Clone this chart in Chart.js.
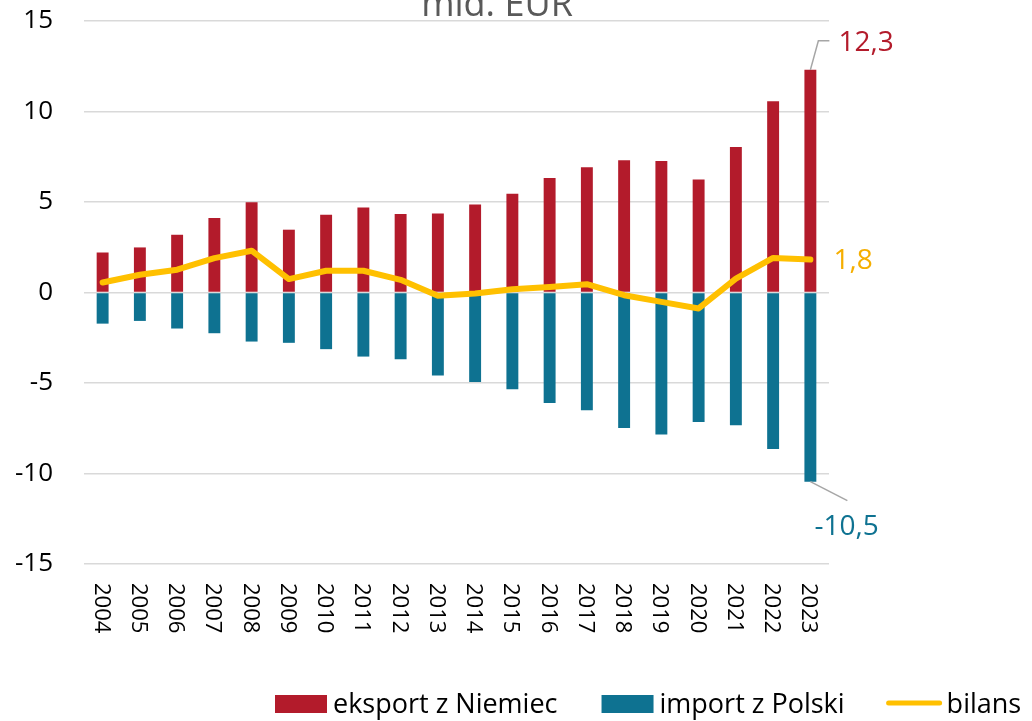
<!DOCTYPE html>
<html>
<head>
<meta charset="utf-8">
<script src="https://cdn.jsdelivr.net/npm/chart.js@4"></script>
<style>
  html, body { margin: 0; padding: 0; background: #fff; }
  canvas { display: block; }
</style>
</head>
<body>
<canvas id="chart" width="1032" height="721"></canvas>
<script>
// data (mld. EUR)
const years = ['2004','2005','2006','2007','2008','2009','2010','2011','2012','2013',
               '2014','2015','2016','2017','2018','2019','2020','2021','2022','2023'];
const eksport = [2.21, 2.49, 3.19, 4.12, 4.98, 3.47, 4.30, 4.70, 4.34, 4.36,
                 4.86, 5.46, 6.33, 6.92, 7.30, 7.26, 6.24, 8.04, 10.57, 12.3];
const importPL = [-1.72, -1.57, -1.99, -2.25, -2.71, -2.78, -3.13, -3.54, -3.69, -4.59,
                  -4.94, -5.35, -6.10, -6.50, -7.49, -7.85, -7.16, -7.34, -8.65, -10.45];
const bilans = [0.55, 0.98, 1.26, 1.90, 2.31, 0.74, 1.20, 1.20, 0.70, -0.18,
                -0.06, 0.18, 0.31, 0.46, -0.15, -0.52, -0.88, 0.77, 1.91, 1.82];
const yTicks = [-15, -10, -5, 0, 5, 10, 15];
const seriesNames = ['eksport z Niemiec', 'import z Polski', 'bilans'];
const lastLabels = ['12,3', '-10,5', '1,8'];

const RED = '#B31B2B';
const TEAL = '#0E7291';
const YELLOW = '#FFC000';
const FONT = "'Open Sans', 'Noto Sans', sans-serif";

// title, rotated year labels, end labels and legend
const extras = {
  id: 'extras',
  afterDraw(chart) {
    const ctx = chart.ctx;
    const xs = chart.scales.x;
    ctx.save();

    // title (cut at the top like the original)
    ctx.fillStyle = '#595959';
    ctx.font = '36px ' + FONT;
    ctx.textAlign = 'center';
    ctx.textBaseline = 'alphabetic';
    ctx.fillText('mld. EUR', 497, 16);

    // years, rotated clockwise
    ctx.fillStyle = '#000';
    ctx.font = '22px ' + FONT;
    ctx.textAlign = 'left';
    years.forEach((y, i) => {
      const x = xs.getPixelForValue(i);
      ctx.save();
      ctx.translate(x - 8, 583);
      ctx.rotate(Math.PI / 2);
      ctx.fillText(y, 0, 0);
      ctx.restore();
    });

    // labels on the last values
    const last = years.length - 1;
    const pe = chart.getDatasetMeta(1).data[last];
    const pi = chart.getDatasetMeta(2).data[last];
    const pb = chart.getDatasetMeta(0).data[last];
    ctx.strokeStyle = '#a6a6a6';
    ctx.lineWidth = 1.5;
    ctx.beginPath();
    ctx.moveTo(pe.x, pe.y);
    ctx.lineTo(pe.x + 8, pe.y - 29);
    ctx.lineTo(pe.x + 19, pe.y - 29);
    ctx.stroke();
    ctx.beginPath();
    ctx.moveTo(pi.x, pi.y);
    ctx.lineTo(pi.x + 37, pi.y + 19);
    ctx.stroke();

    ctx.font = '28px ' + FONT;
    ctx.textBaseline = 'middle';
    ctx.fillStyle = RED;
    ctx.fillText(lastLabels[0], pe.x + 28, pe.y - 27);
    ctx.fillStyle = TEAL;
    ctx.fillText(lastLabels[1], pi.x + 4, pi.y + 45);
    ctx.fillStyle = '#F5AE00';
    ctx.fillText(lastLabels[2], pb.x + 23, pb.y + 1);

    // legend
    ctx.font = '27px ' + FONT;
    ctx.textBaseline = 'alphabetic';
    let lx = 275;
    const ly = 713;
    [RED, TEAL].forEach((c, k) => {
      ctx.fillStyle = c;
      ctx.fillRect(lx, ly - 18, 52, 18);
      ctx.fillStyle = '#000';
      ctx.fillText(seriesNames[k], lx + 58, ly);
      lx += 58 + ctx.measureText(seriesNames[k]).width + 44;
    });
    lx -= 2;
    ctx.strokeStyle = YELLOW;
    ctx.lineWidth = 5;
    ctx.lineCap = 'round';
    ctx.beginPath();
    ctx.moveTo(lx + 2, ly - 10);
    ctx.lineTo(lx + 53, ly - 10);
    ctx.stroke();
    ctx.fillStyle = '#000';
    ctx.fillText(seriesNames[2], lx + 60, ly);

    ctx.restore();
  }
};

new Chart(document.getElementById('chart').getContext('2d'), {
  type: 'bar',
  data: {
    labels: years,
    datasets: [
      {
        type: 'line',
        label: seriesNames[2],
        data: bilans,
        borderColor: YELLOW,
        borderWidth: 6,
        pointRadius: 0,
        tension: 0,
        borderCapStyle: 'round',
        borderJoinStyle: 'round',
        order: 0
      },
      {
        label: seriesNames[0],
        data: eksport,
        backgroundColor: RED,
        barPercentage: 0.32,
        categoryPercentage: 1,
        order: 1
      },
      {
        label: seriesNames[1],
        data: importPL,
        backgroundColor: TEAL,
        barPercentage: 0.32,
        categoryPercentage: 1,
        order: 2
      }
    ]
  },
  options: {
    responsive: false,
    animation: false,
    devicePixelRatio: 1,
    layout: { padding: { top: 21, right: 203, left: 0, bottom: 0 } },
    scales: {
      x: {
        stacked: true,
        grid: { display: false },
        border: { display: false },
        ticks: { display: false },
        afterFit: s => { s.height = 157; }
      },
      y: {
        min: -15,
        max: 15,
        afterBuildTicks: s => { s.ticks = yTicks.map(v => ({ value: v })); },
        ticks: {
          color: '#000',
          font: { family: FONT, size: 26 },
          padding: 31,
          callback: v => String(v)
        },
        grid: { color: '#d9d9d9', lineWidth: 1.5, drawTicks: false },
        border: { display: false },
        afterFit: s => { s.width = 84; s.paddingTop = 0; s.paddingBottom = 0; }
      }
    },
    plugins: {
      legend: { display: false },
      tooltip: { enabled: false }
    }
  },
  plugins: [extras]
});
</script>
</body>
</html>
